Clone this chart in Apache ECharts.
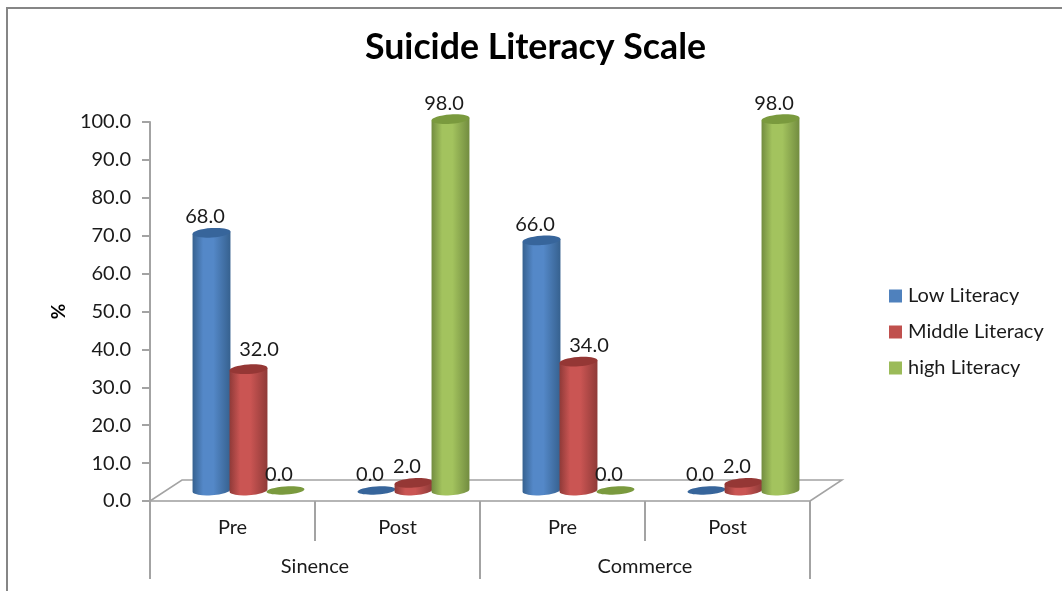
<!DOCTYPE html>
<html>
<head>
<meta charset="utf-8">
<style>html,body{margin:0;padding:0;background:#fff}#chart{width:1062px;height:591px}</style>
<script src="https://cdn.jsdelivr.net/npm/echarts@6/dist/echarts.min.js"></script>
</head>
<body>
<div id="chart"></div>
<script>
// Suicide literacy levels before and after the programme, by stream
const periods = ['Pre', 'Post', 'Pre', 'Post'];
const streams = ['Sinence', 'Commerce'];
const lowLiteracy = [68, 0, 66, 0];
const middleLiteracy = [32, 2, 34, 2];
const highLiteracy = [0, 98, 0, 98];
const yTicks = { min: 0, max: 100, interval: 10 };

const palette = {
  low: { flat: '#4f81bd', edge: '#36618f', mid: '#5488c8', top: '#37659b' },
  middle: { flat: '#c0504d', edge: '#8f3a38', mid: '#ca5553', top: '#953735' },
  high: { flat: '#9bbb59', edge: '#728c40', mid: '#a3c35e', top: '#7a9a3e' }
};

const FONT = 'Lato';
const TEXT_SIZE = 20;
const AXIS_GREY = '#a3a3a3';
const DEPTH_X = 16, DEPTH_Y = 10.5;   // shift of the bars onto the sloped floor
const RX = 19, RY = 4.7;              // cylinder ellipse radii
const TILT = 4;                       // lean of the ellipses, degrees

function cylinderSeries(name, values, colors, slot) {
  return {
    name,
    type: 'custom',
    coordinateSystem: 'cartesian2d',
    itemStyle: { color: colors.flat },
    z: 3,
    clip: false,
    renderItem(params, api) {
      const cat = api.value(0), v = api.value(1);
      const base = api.coord([cat, 0]);
      const top = api.coord([cat, v]);
      const band = api.size([1, 0])[0];
      const cx = base[0] + DEPTH_X + slot * band * 0.2242;
      const by = base[1] - DEPTH_Y, ty = top[1] - DEPTH_Y;
      const ry = v === 0 ? 4 : RY;
      const rad = TILT * Math.PI / 180;
      const ex = RX * Math.cos(rad), ey = RX * Math.sin(rad);
      const children = [];
      if (v > 0) {
        children.push({
          type: 'path',
          shape: {
            pathData: `M ${cx - ex} ${ty + ey} L ${cx - ex} ${by + ey} A ${RX} ${ry} ${-TILT} 0 0 ${cx + ex} ${by - ey} L ${cx + ex} ${ty - ey} Z`
          },
          style: {
            fill: new echarts.graphic.LinearGradient(0, 0, 1, 0, [
              { offset: 0, color: colors.edge },
              { offset: 0.28, color: colors.mid },
              { offset: 0.55, color: colors.mid },
              { offset: 1, color: colors.edge }
            ])
          }
        });
      }
      children.push({
        type: 'ellipse',
        shape: { cx, cy: ty, rx: RX, ry },
        originX: cx,
        originY: ty,
        rotation: rad,
        style: { fill: colors.top }
      });
      // Middle-literacy labels on the Pre bars sit to the right, clear of the taller blue bar
      const beside = slot === 0 && v > 10;
      children.push({
        type: 'text',
        z2: 10,
        style: {
          text: v.toFixed(1),
          x: cx + (beside ? 10.5 : -6.5),
          y: ty - (v === 32 ? 20 : 16),
          align: 'center',
          verticalAlign: 'middle',
          fill: '#1a1a1a',
          font: `${TEXT_SIZE}px ${FONT}`
        }
      });
      return { type: 'group', children };
    },
    data: values.map((v, i) => [i, v])
  };
}

// Sloped floor that sits behind the cylinders
const floorSeries = {
  type: 'custom',
  coordinateSystem: 'cartesian2d',
  silent: true,
  z: 1,
  clip: false,
  renderItem(params, api) {
    const band = api.size([1, 0])[0];
    const first = api.coord([0, 0]);
    const last = api.coord([periods.length - 1, 0]);
    const a = [first[0] - band / 2, first[1]];
    const b = [last[0] + band / 2, last[1]];
    const dx = DEPTH_X * 2, dy = DEPTH_Y * 2;
    return {
      type: 'polyline',
      shape: { points: [a, [a[0] + dx, a[1] - dy], [b[0] + dx, b[1] - dy], b] },
      style: { fill: null, stroke: AXIS_GREY, lineWidth: 1.5 }
    };
  },
  data: [[0, 0]]
};

const option = {
  animation: false,
  backgroundColor: '#fff',
  textStyle: { fontFamily: FONT },
  title: {
    text: 'Suicide Literacy Scale',
    left: 535.5,
    textAlign: 'center',
    top: 29,
    padding: 0,
    textStyle: { fontFamily: FONT, fontWeight: 'bold', fontSize: 35.7, color: '#000' }
  },
  legend: {
    orient: 'vertical',
    left: 889,
    top: 285,
    padding: 0,
    itemWidth: 13,
    itemHeight: 13,
    itemGap: 14,
    icon: 'rect',
    textStyle: { fontFamily: FONT, fontSize: TEXT_SIZE, color: '#1a1a1a', lineHeight: 22, padding: [0, 0, 0, 1] },
    data: ['Low Literacy', 'Middle Literacy', 'high Literacy']
  },
  grid: { left: 150, top: 122, width: 660, height: 379 },
  xAxis: [
    {
      type: 'category',
      data: periods,
      position: 'bottom',
      axisLine: { lineStyle: { color: '#b5b5b5', width: 2 } },
      axisTick: { show: true, alignWithLabel: false, length: 40, lineStyle: { color: AXIS_GREY, width: 2 } },
      axisLabel: { fontFamily: FONT, fontSize: TEXT_SIZE, color: '#1a1a1a', margin: 17, interval: 0 },
      splitLine: { show: false }
    },
    {
      type: 'category',
      data: streams,
      position: 'bottom',
      axisLine: { show: false },
      axisTick: { show: true, alignWithLabel: false, length: 78, lineStyle: { color: AXIS_GREY, width: 2 } },
      axisLabel: { fontFamily: FONT, fontSize: TEXT_SIZE, color: '#1a1a1a', margin: 56, interval: 0 },
      splitLine: { show: false }
    }
  ],
  yAxis: {
    type: 'value',
    min: yTicks.min,
    max: yTicks.max,
    interval: yTicks.interval,
    name: '%',
    nameLocation: 'middle',
    nameRotate: 90,
    nameGap: 82,
    nameTextStyle: { fontFamily: FONT, fontSize: 19, fontWeight: 'bold', color: '#000' },
    axisLine: { show: true, lineStyle: { color: AXIS_GREY, width: 2 } },
    axisTick: { show: true, length: 8, lineStyle: { color: AXIS_GREY, width: 2 } },
    axisLabel: { fontFamily: FONT, fontSize: TEXT_SIZE, color: '#1a1a1a', margin: 19, padding: [1, 0, 0, 0], formatter: v => v.toFixed(1) },
    splitLine: { show: false }
  },
  graphic: [{
    type: 'rect',
    silent: true,
    shape: { x: 7, y: 8, width: 1200, height: 800 },
    style: { fill: null, stroke: '#868686', lineWidth: 2 }
  }],
  series: [
    floorSeries,
    cylinderSeries('Low Literacy', lowLiteracy, palette.low, -1),
    cylinderSeries('Middle Literacy', middleLiteracy, palette.middle, 0),
    cylinderSeries('high Literacy', highLiteracy, palette.high, 1)
  ]
};

echarts.init(document.getElementById('chart'), null, { renderer: 'canvas' }).setOption(option);
</script>
</body>
</html>
